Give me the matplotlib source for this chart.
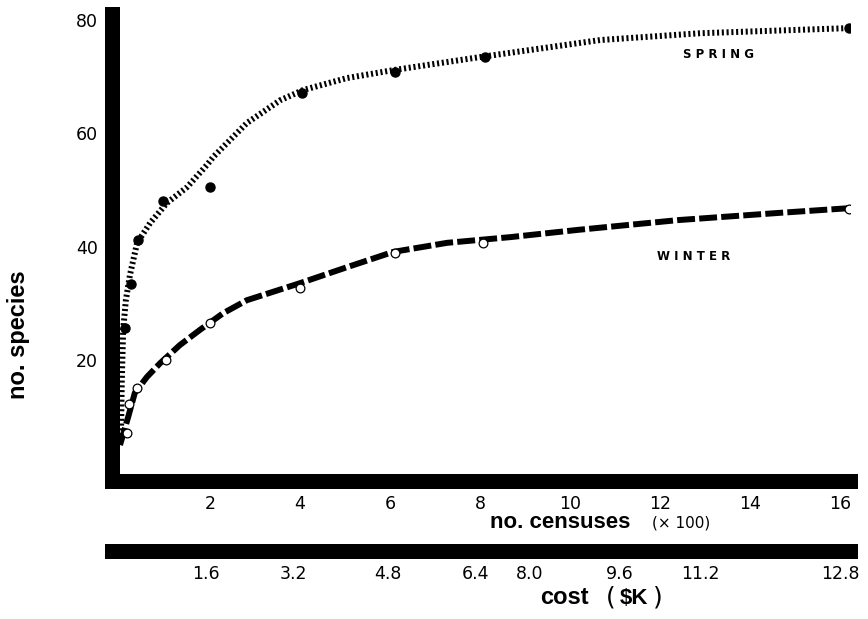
import matplotlib
matplotlib.use('Agg')
import matplotlib.pyplot as plt

# ---------------- data ----------------
spring_x = [0.10, 0.25, 0.40, 0.95, 2.0, 4.05, 6.1, 8.1, 16.2]
spring_y = [25.7, 33.5, 41.2, 48.1, 50.5, 67.1, 70.8, 73.4, 78.5]

winter_x = [0.16, 0.20, 0.38, 1.02, 2.0, 4.0, 6.1, 8.07, 16.2]
winter_y = [7.2, 12.3, 15.1, 20.1, 26.6, 32.7, 38.9, 40.7, 46.7]

spring_curve_x = [0.02, 0.04, 0.07, 0.13, 0.22, 0.38, 0.67, 1.04, 1.49, 1.93,
                  2.07, 2.82, 3.56, 4.07, 5.04, 6.07, 8.0, 10.67, 12.9, 15.1, 16.2]
spring_curve_y = [6.0, 16.5, 25.4, 30.6, 35.0, 40.7, 44.2, 47.7, 50.5, 54.4,
                  55.8, 61.8, 65.8, 67.6, 69.7, 71.1, 73.4, 76.4, 77.6, 78.2, 78.5]

winter_curve_x = [0.0, 0.18, 0.33, 0.6, 0.89, 1.33, 1.78, 2.29, 2.82, 4.0,
                  5.04, 6.07, 7.27, 8.67, 10.2, 12.4, 14.7, 16.2]
winter_curve_y = [5.1, 10.0, 14.3, 17.1, 19.5, 22.7, 25.4, 28.3, 30.6, 33.6,
                  36.4, 39.1, 40.7, 41.7, 43.0, 44.7, 46.0, 46.8]

census_ticks = [2, 4, 6, 8, 10, 12, 14, 16]
y_ticks = [20, 40, 60, 80]
cost_labels = ['1.6', '3.2', '4.8', '6.4', '8.0', '9.6', '11.2', '12.8']
cost_tick_at = [1.9, 3.85, 5.95, 7.9, 9.1, 11.1, 12.9, 16.0]   # in census units

# ---------------- figure ----------------
W, H = 868, 619
fig = plt.figure(figsize=(W / 100, H / 100), dpi=100)
SPW = 15 * 72 / 100  # 15 px thick bars

ax = fig.add_axes([111.5 / W, (H - 480.5) / H, 738 / W, 467 / H])
ax.set_xlim(-0.189, 16.21)
ax.set_ylim(-1.14, 81.07)

ax.plot(spring_curve_x, spring_curve_y, color='black', lw=4.3,
        dashes=(0.35, 0.45), solid_capstyle='butt', dash_capstyle='butt')
ax.plot(winter_curve_x, winter_curve_y, color='black', lw=4.3,
        dashes=(3.0, 0.7), dash_capstyle='butt')
ax.plot(spring_x, spring_y, 'o', color='black', ms=6.5, zorder=4)
ax.plot(winter_x, winter_y, 'o', mfc='white', mec='black', mew=0.9, ms=6.3, zorder=4)

for side in ['top', 'right']:
    ax.spines[side].set_visible(False)
for side in ['left', 'bottom']:
    ax.spines[side].set_linewidth(SPW)
    ax.spines[side].set_capstyle('projecting')

ax.set_xticks(census_ticks)
ax.set_xticklabels([str(t) for t in census_ticks])
ax.set_yticks(y_ticks)
ax.set_yticklabels([str(t) for t in y_ticks])
ax.tick_params(axis='x', length=0, pad=10.4, labelsize=12.5)
ax.tick_params(axis='y', length=0, pad=9.7, labelsize=12.5)

ax.text(13.3, 73.8, 'S P R I N G', fontsize=8.5, fontweight='bold',
        ha='center', va='center')
ax.text(12.75, 38.3, 'W I N T E R', fontsize=8.5, fontweight='bold',
        ha='center', va='center')

# cost axis
ax2 = fig.add_axes([111.5 / W, (H - 550.5) / H, 738 / W, 0.0005])
ax2.set_xlim(-0.189, 16.21)
ax2.set_ylim(0, 1)
ax2.patch.set_visible(False)
for side in ['top', 'right', 'left']:
    ax2.spines[side].set_visible(False)
ax2.spines['bottom'].set_linewidth(SPW)
ax2.spines['bottom'].set_capstyle('projecting')
ax2.set_yticks([])
ax2.set_xticks(cost_tick_at)
ax2.set_xticklabels(cost_labels)
ax2.tick_params(axis='x', length=0, pad=10.4, labelsize=12.5)

# axis titles
fig.text(19 / W, 1 - 335 / H, 'no. species', rotation=90, fontsize=17,
         fontweight='bold', family='Liberation Sans', ha='center', va='center')
fig.text(490 / W, 1 - 523 / H, 'no. censuses', fontsize=16, fontweight='bold',
         family='Liberation Sans', ha='left', va='center')
fig.text(652 / W, 1 - 523 / H, '(× 100)', fontsize=11, ha='left', va='center')
fig.text(540 / W, 1 - 598 / H, 'cost', fontsize=17, fontweight='bold',
         family='Liberation Sans', ha='left', va='center')
fig.text(606 / W, 1 - 597 / H, '(', fontsize=18, ha='left', va='center')
fig.text(620 / W, 1 - 598 / H, '$K', fontsize=16, fontweight='bold',
         family='Liberation Sans', ha='left', va='center')
fig.text(653 / W, 1 - 597 / H, ')', fontsize=18, ha='left', va='center')

fig.savefig('out.png', dpi=100)
